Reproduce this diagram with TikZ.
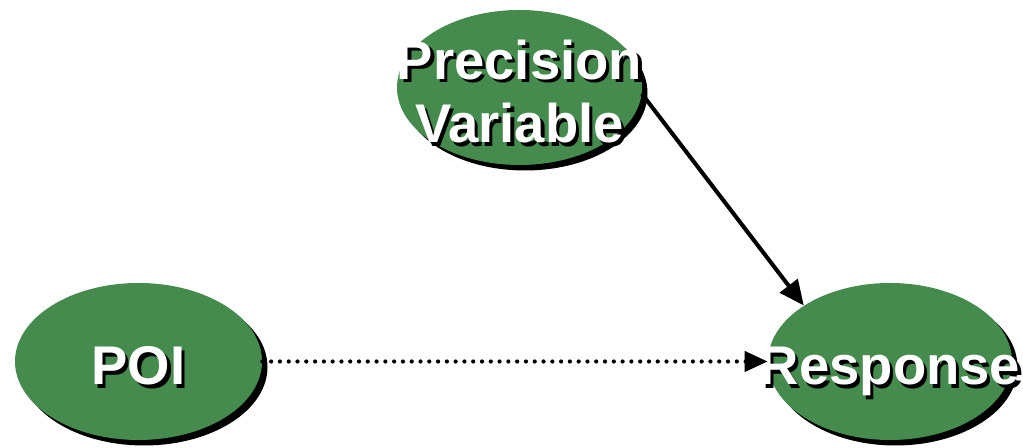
\documentclass[tikz,border=0pt]{standalone}
\usepackage{fontspec}
\setmainfont{Liberation Sans}
\usepackage{tikz}
\usetikzlibrary{arrows.meta, shadows, shapes.geometric}

\definecolor{bubblegreen}{RGB}{69,139,78}
% white text with a small black shadow, centred on a zero-width box
\newcommand{\shtext}[1]{\makebox[0pt]{\makebox[0pt][l]{\hspace{1.8pt}\raisebox{-1.8pt}{\color{black}#1}}#1}}

\begin{document}
\begin{tikzpicture}[
    bubble/.style={ellipse, fill=bubblegreen, inner sep=0pt, text=white,
        font=\fontsize{31pt}{36pt}\selectfont\bfseries,
        drop shadow={shadow xshift=0.11cm, shadow yshift=-0.11cm, fill=black, opacity=1}},
    oneline/.style={text height=1.1cm, text depth=0.16cm},
    >=Triangle,
]
    \useasboundingbox (0,0) rectangle (20.46,8.96);

    \node[bubble, minimum width=4.90cm, minimum height=3.10cm] (prec) at (10.39,7.21)
        {\raisebox{-1.11cm}[0pt][0pt]{\begin{tabular}[b]{@{}c@{}}\shtext{Precision}\\\shtext{Variable}\end{tabular}}};
    \node[bubble, oneline, minimum width=4.94cm, minimum height=3.14cm] (poi) at (2.77,1.73)
        {\shtext{POI}};
    \node[bubble, oneline, minimum width=4.88cm, minimum height=3.14cm] (resp) at (17.80,1.73)
        {\shtext{Response}};

    \draw[->, line width=2.3pt, arrows={-Triangle[length=0.5cm, width=0.44cm]}]
        (prec.-3) -- (resp.147);
    \draw[line width=2.4pt, line cap=round, dash pattern=on 0pt off 5pt,
        arrows={-Triangle[length=0.46cm, width=0.4cm]}]
        (poi.east) -- (resp.west);
\end{tikzpicture}
\end{document}
